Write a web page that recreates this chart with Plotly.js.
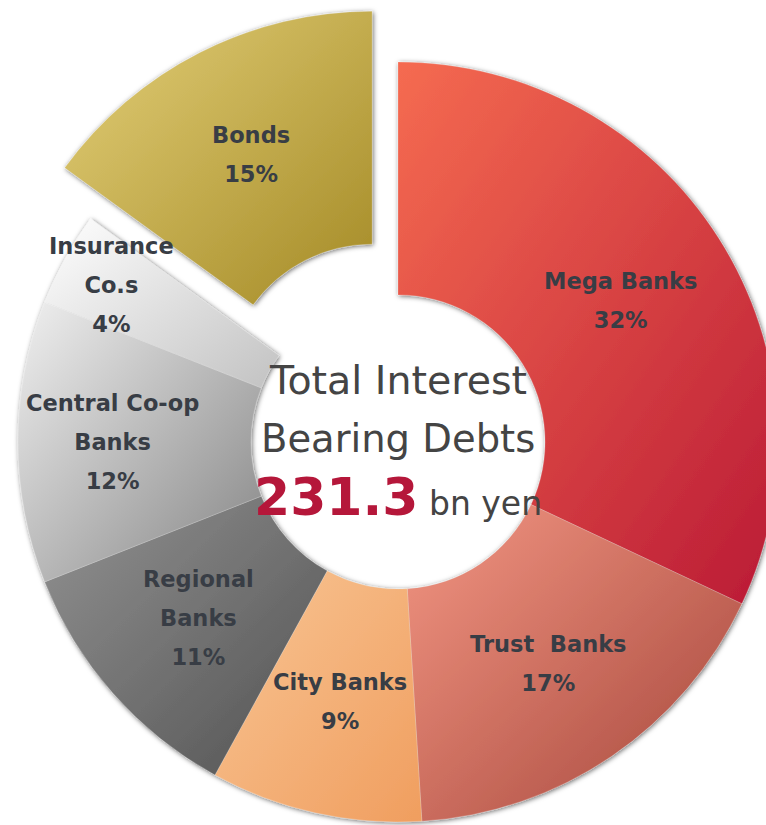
<!DOCTYPE html>
<html><head><meta charset="utf-8">
<script src="https://cdn.plot.ly/plotly-3.0.1.min.js"></script>
<style>
html,body{margin:0;padding:0;width:766px;height:825px;overflow:hidden;background:#fff}
#chart{position:absolute;left:-39px;top:5px;width:874px;height:874px}
</style>
</head><body><div id="chart"></div>
<script>
// ---- data ----
const categories = ['Mega Banks','Trust Banks','City Banks','Regional Banks','Central Co-op Banks','Insurance Co.s','Bonds'];
const labelLines = ['Mega Banks','Trust&nbsp; Banks','City Banks','Regional<br>Banks','Central Co-op<br>Banks','Insurance<br>Co.s','Bonds'];
const shares = [32, 17, 9, 11, 12, 4, 15];
const totalDebt = '231.3';
const totalUnit = 'bn yen';
const centerTitle = ['Total Interest', 'Bearing Debts'];

// ---- styles ----
const gradStart = ['#F56B51','#F39683','#F8C594','#929292','#F0F0F0','#FFFFFF','#E4D07A'];
const gradEnd   = ['#BA1A35','#A4453A','#F09E5F','#525252','#858585','#C2C2C2','#A48A25'];
const midColor  = ['#DA4443','#CF6E5E','#F4B17A','#727272','#BBBBBB','#E0E0E0','#C4AD50'];
const pulls = [0,0,0,0,0,0,0.15];
const labelR = [0.695,0.705,0.70,0.70,0.75,0.86,0.70];

const W = 874, HOLE = 0.387;
const R = W / (2 + 2*0.15);
const total = shares.reduce((a,b)=>a+b,0);

const annotations = [];
let cum = 0;
shares.forEach((v,i)=>{
  const th = 2*Math.PI*(cum + v/2)/total;
  cum += v;
  const rr = R*(labelR[i] + pulls[i]);
  const dx = rr*Math.sin(th), dy = -rr*Math.cos(th);
  const pct = Math.round(v/total*100) + '%';
  const lines = labelLines[i].split('<br>').concat([pct]);
  const txt = lines.map(s=>'<span style="font-size:22.5px"><b>'+s+'</b></span>').join('<br>');
  annotations.push({xref:'paper',yref:'paper',x:0.5+dx/W,y:0.5-dy/W,text:txt,showarrow:false,
    xanchor:'center',yanchor:'middle',font:{family:'DejaVu Sans',size:30,color:'#383D45'}});
});
annotations.push({xref:'paper',yref:'paper',x:0.5,y:0.5,yshift:62,text:centerTitle[0],showarrow:false,
  xanchor:'center',yanchor:'middle',font:{family:'DejaVu Sans',size:39.5,color:'#444444'}});
annotations.push({xref:'paper',yref:'paper',x:0.5,y:0.5,yshift:4,text:centerTitle[1],showarrow:false,
  xanchor:'center',yanchor:'middle',font:{family:'DejaVu Sans',size:38.5,color:'#444444'}});
annotations.push({xref:'paper',yref:'paper',x:0.5,y:0.5,yshift:-55,
  text:'<span style="font-size:52px;color:#B5173A"><b>'+totalDebt+'</b></span> '+totalUnit,showarrow:false,
  xanchor:'center',yanchor:'middle',font:{family:'DejaVu Sans',size:33,color:'#444444'}});

const data = [{
  type:'pie', labels:categories, values:shares, sort:false, direction:'clockwise', rotation:0,
  hole:HOLE, pull:pulls, textinfo:'none', hoverinfo:'none', showlegend:false,
  marker:{colors:midColor, line:{color:'rgba(255,255,255,0.35)', width:0.6}},
  domain:{x:[0,1],y:[0,1]}
}];
const layout = {width:W,height:W,autosize:false,margin:{l:0,r:0,t:0,b:0},
  paper_bgcolor:'rgba(0,0,0,0)',plot_bgcolor:'rgba(0,0,0,0)',showlegend:false,annotations:annotations};

Plotly.newPlot('chart', data, layout, {staticPlot:true, displayModeBar:false}).then(gd=>{
  const ns='http://www.w3.org/2000/svg';
  const svg = gd.querySelector('svg.main-svg');
  let defs = svg.querySelector('defs');
  if(!defs){defs=document.createElementNS(ns,'defs');svg.insertBefore(defs,svg.firstChild);}
  gradStart.forEach((c,i)=>{
    const lg=document.createElementNS(ns,'linearGradient');
    lg.setAttribute('id','sliceGrad'+i);
    lg.setAttribute('x1','0');lg.setAttribute('y1','0');lg.setAttribute('x2','1');lg.setAttribute('y2','1');
    [[0,c],[1,gradEnd[i]]].forEach(([o,col])=>{
      const st=document.createElementNS(ns,'stop');
      st.setAttribute('offset',o);st.setAttribute('stop-color',col);lg.appendChild(st);
    });
    defs.appendChild(lg);
  });
  const f=document.createElementNS(ns,'filter');
  f.setAttribute('id','sliceShadow');
  f.setAttribute('x','-10%');f.setAttribute('y','-10%');f.setAttribute('width','120%');f.setAttribute('height','120%');
  const ds=document.createElementNS(ns,'feDropShadow');
  ds.setAttribute('dx','1');ds.setAttribute('dy','1');ds.setAttribute('stdDeviation','2.5');
  ds.setAttribute('flood-color','#000');ds.setAttribute('flood-opacity','0.6');
  f.appendChild(ds);defs.appendChild(f);
  gd.querySelectorAll('g.slice').forEach(g=>{
    const d=g.__data__; const idx=(d && d.i!==undefined)?d.i:null;
    const p=g.querySelector('path.surface');
    if(p && idx!==null) p.style.fill='url(#sliceGrad'+idx+')';
  });
  const tr=gd.querySelector('g.pielayer g.trace');
  if(tr) tr.setAttribute('filter','url(#sliceShadow)');
});
</script>
</body></html>
